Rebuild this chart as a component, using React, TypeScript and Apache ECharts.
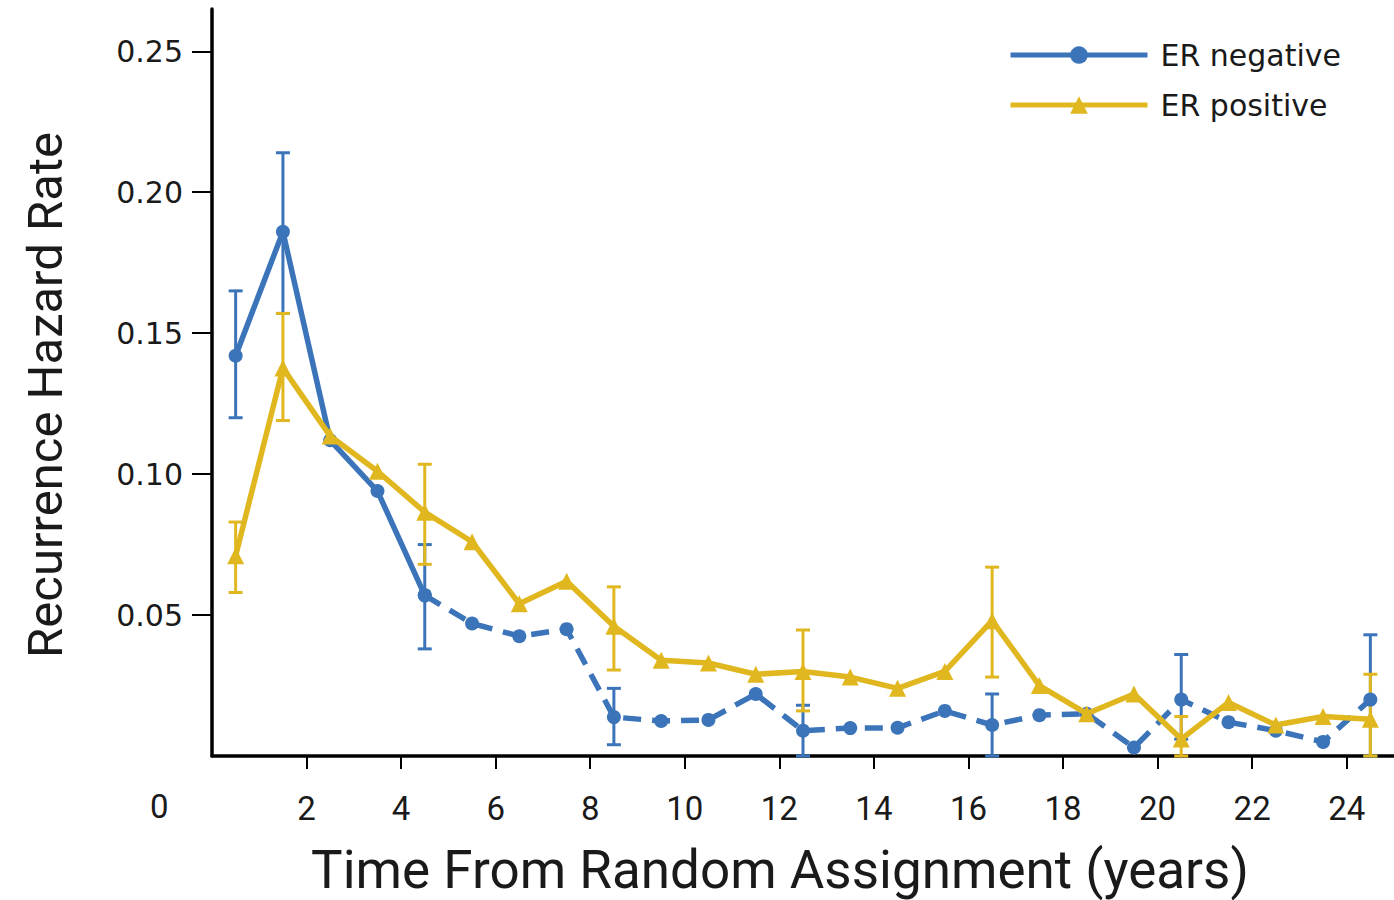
import React, { useEffect, useRef } from "react";
import * as echarts from "echarts";

const years = [0.5, 1.5, 2.5, 3.5, 4.5, 5.5, 6.5, 7.5, 8.5, 9.5, 10.5, 11.5, 12.5, 13.5, 14.5, 15.5, 16.5, 17.5, 18.5, 19.5, 20.5, 21.5, 22.5, 23.5, 24.5];
const erNegative = [0.142, 0.186, 0.112, 0.094, 0.057, 0.047, 0.0425, 0.045, 0.0138, 0.0124, 0.0128, 0.022, 0.009, 0.0099, 0.010, 0.016, 0.011, 0.0145, 0.015, 0.003, 0.020, 0.012, 0.009, 0.005, 0.020];
const erPositive = [0.071, 0.1376, 0.1135, 0.101, 0.0865, 0.076, 0.054, 0.062, 0.046, 0.034, 0.033, 0.029, 0.030, 0.028, 0.024, 0.030, 0.048, 0.025, 0.015, 0.022, 0.006, 0.019, 0.011, 0.014, 0.013];

const errYears = [0.5, 1.5, 4.5, 8.5, 12.5, 16.5, 20.5, 24.5];
const negLow = [0.120, 0.157, 0.038, 0.004, 0.0, 0.0, 0.006, 0.0];
const negHigh = [0.165, 0.214, 0.075, 0.024, 0.018, 0.022, 0.036, 0.043];
const posLow = [0.058, 0.119, 0.068, 0.0305, 0.016, 0.028, 0.0, 0.0];
const posHigh = [0.083, 0.157, 0.1035, 0.060, 0.0447, 0.067, 0.014, 0.029];

const xTicks = [2, 4, 6, 8, 10, 12, 14, 16, 18, 20, 22, 24];
const yTicks = [0.05, 0.1, 0.15, 0.2, 0.25];

const BLUE = "#3b74b9";
const YELLOW = "#e1b71f";
const SOLID_UNTIL = 4; // index where the ER negative line turns dashed

function errorSeries(color: string, lows: number[], highs: number[]) {
  return {
    type: "custom",
    silent: true,
    clip: false,
    encode: { x: 0, y: [1, 2] },
    data: errYears.map((x, i) => [x, lows[i], highs[i]]),
    renderItem: (params: any, api: any) => {
      const x = api.value(0);
      const lo = api.coord([x, api.value(1)]);
      const hi = api.coord([x, api.value(2)]);
      const w = 7;
      const style = { stroke: color, lineWidth: 3 };
      return {
        type: "group",
        children: [
          { type: "line", shape: { x1: lo[0], y1: lo[1], x2: hi[0], y2: hi[1] }, style },
          { type: "line", shape: { x1: hi[0] - w, y1: hi[1], x2: hi[0] + w, y2: hi[1] }, style },
          { type: "line", shape: { x1: lo[0] - w, y1: lo[1], x2: lo[0] + w, y2: lo[1] }, style },
        ],
      };
    },
  };
}

export default function App() {
  const ref = useRef<HTMLDivElement>(null);
  useEffect(() => {
    if (!ref.current) return;
    const chart = echarts.init(ref.current, null, { renderer: "svg" });
    const negSolid = years.map((x, i) => [x, i <= SOLID_UNTIL ? erNegative[i] : null]);
    const negDashed = years.map((x, i) => [x, i >= SOLID_UNTIL ? erNegative[i] : null]);
    const pos = years.map((x, i) => [x, erPositive[i]]);
    chart.setOption({
      animation: false,
      backgroundColor: "#ffffff",
      grid: { left: 212, right: 0, top: 9, bottom: 144, containLabel: false },
      legend: {
        orient: "vertical",
        left: 1008,
        top: 40,
        padding: 0,
        itemWidth: 137,
        itemHeight: 22,
        itemGap: 20,
        lineStyle: { width: 5 },
        textStyle: { fontFamily: "DejaVu Sans", fontSize: 30, color: "#1a1a1a", lineHeight: 30, padding: [0, 0, 0, 8] },
        data: [
          { name: "ER negative", lineStyle: { type: "solid", width: 5 } },
          { name: "ER positive", lineStyle: { width: 5 } },
        ],
      },
      xAxis: {
        type: "value",
        min: 0,
        max: 25,
        axisLine: { show: true, lineStyle: { color: "#000", width: 3.5 } },
        axisTick: { show: true, length: 13, customValues: xTicks, lineStyle: { color: "#000", width: 2 } },
        axisLabel: { show: true, customValues: xTicks, margin: 36, fontFamily: "Roboto", fontSize: 33, color: "#1a1a1a" },
        splitLine: { show: false },
      },
      yAxis: {
        type: "value",
        min: 0,
        max: 0.265,
        axisLine: { show: true, lineStyle: { color: "#000", width: 3.5 } },
        axisTick: { show: true, length: 20, customValues: yTicks, lineStyle: { color: "#000", width: 2 } },
        axisLabel: {
          show: true,
          customValues: yTicks,
          margin: 29,
          fontFamily: "DejaVu Sans",
          fontSize: 30,
          color: "#1a1a1a",
          formatter: (v: number) => v.toFixed(2),
        },
        splitLine: { show: false },
      },
      graphic: [
        { type: "text", left: 150, top: 790, style: { text: "0", fontFamily: "Roboto", fontSize: 33, fill: "#1a1a1a" } },
        {
          type: "text",
          x: 780,
          y: 870,
          style: { text: "Time From Random Assignment (years)", fontFamily: "Roboto", fontSize: 53, fill: "#1a1a1a", align: "center", verticalAlign: "middle" },
        },
        {
          type: "text",
          x: 45,
          y: 395,
          rotation: Math.PI / 2,
          style: { text: "Recurrence Hazard Rate", fontFamily: "Roboto", fontSize: 49, fill: "#1a1a1a", align: "center", verticalAlign: "middle" },
        },
      ],
      series: [
        errorSeries(BLUE, negLow, negHigh),
        {
          name: "ER negative",
          type: "line",
          data: negSolid,
          symbol: "circle",
          symbolSize: 14,
          connectNulls: false,
          lineStyle: { color: BLUE, width: 5.5 },
          itemStyle: { color: BLUE },
          z: 3,
        },
        {
          name: "ER negative",
          type: "line",
          data: negDashed,
          symbol: "circle",
          symbolSize: 14,
          connectNulls: false,
          lineStyle: { color: BLUE, width: 5.5, type: [18, 11] },
          itemStyle: { color: BLUE },
          z: 3,
        },
        errorSeries(YELLOW, posLow, posHigh),
        {
          name: "ER positive",
          type: "line",
          data: pos,
          symbol: "triangle",
          symbolSize: 17,
          lineStyle: { color: YELLOW, width: 5.5 },
          itemStyle: { color: YELLOW },
          z: 4,
        },
      ],
    });
    return () => chart.dispose();
  }, []);
  return <div ref={ref} style={{ position: "absolute", left: 0, top: 0, width: 1394, height: 900 }} />;
}
